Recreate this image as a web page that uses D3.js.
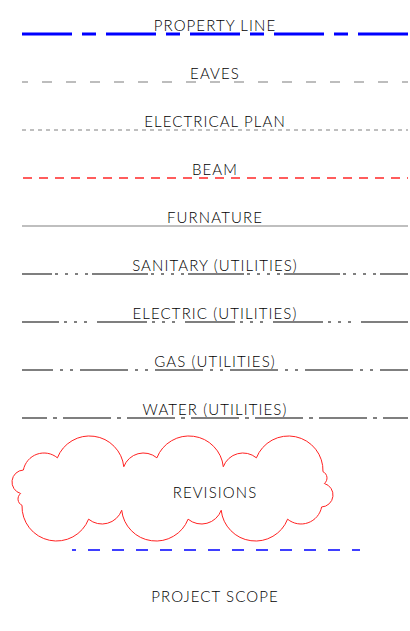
<!DOCTYPE html>
<html>
<head>
<meta charset="utf-8">
<script src="https://cdn.jsdelivr.net/npm/d3@7"></script>
<style>
  body { margin: 0; background: #fff; }
  text { font-family: "Lato", "Noto Sans", sans-serif; font-weight: 300; fill: #000; letter-spacing: 1.1px; }
</style>
</head>
<body>
<div id="chart"></div>
<script>
// Linetype legend

// Row labels, top to bottom
const lineNames = [
    'PROPERTY LINE', 'EAVES', 'ELECTRICAL PLAN', 'BEAM', 'FURNATURE',
    'SANITARY (UTILITIES)', 'ELECTRIC (UTILITIES)', 'GAS (UTILITIES)', 'WATER (UTILITIES)'
];
const revisionLabel = 'REVISIONS';
const scopeLabel = 'PROJECT SCOPE';

// Stroke style for each linetype
const lineStyles = {
    'PROPERTY LINE':        {color: '#0000ff', width: 3,   dash: '50,10,14,10', offset: 0},
    'EAVES':                {color: '#bdbdbd', width: 2,   dash: '10,14', offset: 4},
    'ELECTRICAL PLAN':      {color: '#aaaaaa', width: 1.5, dash: '4,4', offset: 0},
    'BEAM':                 {color: '#ff5c5c', width: 2,   dash: '9,7', offset: -1},
    'FURNATURE':            {color: '#aaaaaa', width: 1.5, dash: null, offset: 0},
    'SANITARY (UTILITIES)': {color: '#555555', width: 1.5, dash: '56,3,3,7,3,7,3,7,3,4', offset: 26},
    'ELECTRIC (UTILITIES)': {color: '#555555', width: 1.5, dash: '50,5,3,7,3,7,3,10', offset: 13},
    'GAS (UTILITIES)':      {color: '#555555', width: 1.5, dash: '48,7,3,7,3,7', offset: 17},
    'WATER (UTILITIES)':    {color: '#555555', width: 1.5, dash: '48,6,4,6', offset: 23}
};

// Cloud lobes (upper half, clockwise); the lower half is the same turned 180 degrees
const cloudLobes = [
    {x: -128.5, y: -14.5, r: 21}, {x: -83, y: -18, r: 34.5},
    {x: -29,    y: -14.5, r: 21}, {x: 16.5, y: -18, r: 34.5},
    {x: 70.5,   y: -14.5, r: 21}, {x: 116,  y: -18, r: 34.5},
    {x: 147.5,  y: -10.5, r: 7},  {x: 148.5, y: 6.5, r: 12}
];

const width = 410, height = 631;

const svg = d3.select('#chart').append('svg')
    .attr('width', width)
    .attr('height', height);

const x = d3.scaleLinear().domain([0, 1]).range([22, 408]);
const y = d3.scalePoint().domain(lineNames).range([34, 418]);
const xMid = (x.range()[0] + x.range()[1]) / 2;

// Lines
svg.selectAll('line.type')
    .data(lineNames)
    .enter()
    .append('line')
    .attr('class', 'type')
    .attr('x1', x(0))
    .attr('x2', x(1))
    .attr('y1', d => y(d))
    .attr('y2', d => y(d))
    .attr('stroke', d => lineStyles[d].color)
    .attr('stroke-width', d => lineStyles[d].width)
    .attr('stroke-dasharray', d => lineStyles[d].dash)
    .attr('stroke-dashoffset', d => lineStyles[d].offset);

// Labels
svg.selectAll('text.type')
    .data(lineNames)
    .enter()
    .append('text')
    .attr('class', 'type')
    .attr('x', xMid)
    .attr('y', d => y(d) - 3)
    .attr('text-anchor', 'middle')
    .style('font-size', '15px')
    .text(d => d);

// Revision cloud
const allLobes = cloudLobes.concat(cloudLobes.map(c => ({x: -c.x, y: -c.y, r: c.r})));

function outerPoint(a, b) {
    const dx = b.x - a.x, dy = b.y - a.y;
    const d = Math.sqrt(dx * dx + dy * dy);
    const k = (a.r * a.r - b.r * b.r + d * d) / (2 * d);
    const h = Math.sqrt(Math.max(0, a.r * a.r - k * k));
    const px = a.x + k * dx / d, py = a.y + k * dy / d;
    return {x: px + h * dy / d, y: py - h * dx / d};
}

const n = allLobes.length;
const joins = allLobes.map((c, i) => outerPoint(c, allLobes[(i + 1) % n]));
const cloud = d3.path();
cloud.moveTo(joins[n - 1].x, joins[n - 1].y);
allLobes.forEach((c, i) => {
    const p0 = joins[(i - 1 + n) % n], p1 = joins[i];
    const a0 = Math.atan2(p0.y - c.y, p0.x - c.x);
    const a1 = Math.atan2(p1.y - c.y, p1.x - c.x);
    cloud.arc(c.x, c.y, c.r, a0, a1, false);
});
cloud.closePath();

svg.append('path')
    .attr('transform', 'translate(172.5,488.5)')
    .attr('d', cloud.toString())
    .attr('fill', 'none')
    .attr('stroke', '#ff2222')
    .attr('stroke-width', 1);

svg.append('text')
    .attr('x', xMid)
    .attr('y', 498)
    .attr('text-anchor', 'middle')
    .style('font-size', '15px')
    .text(revisionLabel);

// Project scope
svg.append('line')
    .attr('x1', 72)
    .attr('x2', 360)
    .attr('y1', 550)
    .attr('y2', 550)
    .attr('stroke', '#0000ff')
    .attr('stroke-width', 1.5)
    .attr('stroke-dasharray', '12,12')
    .attr('stroke-dashoffset', 8);

svg.append('text')
    .attr('x', xMid)
    .attr('y', 602)
    .attr('text-anchor', 'middle')
    .style('font-size', '15px')
    .text(scopeLabel);
</script>
</body>
</html>
